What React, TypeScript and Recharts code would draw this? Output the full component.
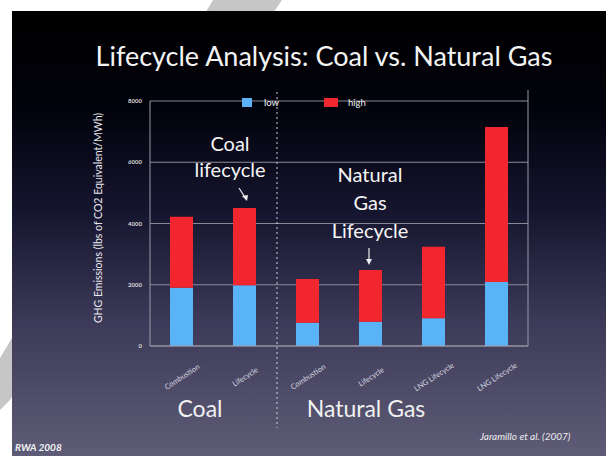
import React from "react";
import { BarChart, Bar, XAxis, YAxis, CartesianGrid, Legend } from "recharts";

const categories = [
  "Combustion",
  "Lifecycle",
  "Combustion",
  "Lifecycle",
  "LNG Lifecycle",
  "LNG Lifecycle",
];
const lowValues = [1900, 1980, 760, 790, 910, 2090];
const highValues = [2320, 2530, 1430, 1690, 2330, 5060];
const yTicks = [0, 2000, 4000, 6000, 8000];

const data = categories.map((name, i) => ({
  name,
  low: lowValues[i],
  high: highValues[i],
}));

const FONT = "Lato, 'Open Sans', sans-serif";

function RotatedTick(props: any) {
  const { x, y, payload } = props;
  return (
    <text
      transform={`translate(${x + 2},${y + 25}) rotate(-33)`}
      textAnchor="middle"
      fill="#d8d8e0"
      fontSize={7.5}
      fontFamily={FONT}
    >
      {payload.value}
    </text>
  );
}

function LegendBox() {
  return (
    <div style={{ display: "flex", alignItems: "center", fontFamily: FONT, fontSize: 9.5, color: "#eee" }}>
      <span style={{ width: 10, height: 9, background: "#5ab2f7", display: "inline-block" }} />
      <span style={{ marginLeft: 12 }}>low</span>
      <span style={{ width: 14, height: 9, background: "#f2262e", display: "inline-block", marginLeft: 45 }} />
      <span style={{ marginLeft: 10 }}>high</span>
    </div>
  );
}

export default function App() {
  return (
    <div style={{ position: "absolute", left: 0, top: 0, width: 606, height: 456, background: "#fff", overflow: "hidden", fontFamily: FONT }}>
      {/* grey brush stroke behind the slide */}
      <svg width={606} height={456} style={{ position: "absolute", left: 0, top: 0 }}>
        <polygon points="213,0 282,0 10,400 0,410 0,358" fill="#c6c6c6" />
      </svg>
      {/* slide */}
      <div
        style={{
          position: "absolute",
          left: 12,
          top: 11,
          width: 594,
          height: 445,
          background: "linear-gradient(180deg, #000 0%, #02020c 22%, #16152f 45%, #3c3a58 70%, #5e5c76 100%)",
        }}
      />
      <div style={{ position: "absolute", left: 0, top: 39, width: 648, textAlign: "center", color: "#f4f4f4", fontSize: 27 }}>
        Lifecycle Analysis: Coal vs. Natural Gas
      </div>
      <div style={{ position: "absolute", left: 0, top: 0 }}>
        <BarChart
          width={606}
          height={456}
          data={data}
          margin={{ top: 90, right: 78, bottom: 70, left: 110 }}
          barCategoryGap={20}
        >
          <CartesianGrid stroke="#8a8a98" strokeWidth={1} vertical={false} />
          <XAxis
            dataKey="name"
            height={40}
            interval={0}
            tick={<RotatedTick />}
            tickLine={false}
            axisLine={{ stroke: "#9a9aa8" }}
          />
          <YAxis
            width={40}
            domain={[0, 8000]}
            ticks={yTicks}
            tickLine={false}
            axisLine={{ stroke: "#9a9aa8" }}
            tick={{ fill: "#d8d8d8", fontSize: 6, fontWeight: 700, fontFamily: FONT }}
          />
          <Legend
            verticalAlign="top"
            content={() => <LegendBox />}
            wrapperStyle={{ position: "absolute", top: 97, left: 242, width: 200 }}
          />
          <Bar dataKey="low" name="low" stackId="a" fill="#5ab2f7" isAnimationActive={false} />
          <Bar dataKey="high" name="high" stackId="a" fill="#f2262e" isAnimationActive={false} />
        </BarChart>
      </div>
      {/* frame, divider, arrows, axis title */}
      <svg width={606} height={456} style={{ position: "absolute", left: 0, top: 0, pointerEvents: "none" }}>
        <line x1={528} y1={90} x2={528} y2={346} stroke="#9a9aa8" />
        <line x1={277} y1={92} x2={277} y2={428} stroke="#d0d0d8" strokeDasharray="2 3" />
        <line x1={239} y1={188} x2={246} y2={199} stroke="#eee" strokeWidth={1.2} />
        <polygon points="247,201 242,196 248,195" fill="#eee" />
        <line x1={369} y1={248} x2={369} y2={262} stroke="#eee" strokeWidth={1.2} />
        <polygon points="369,265 366,259 372,259" fill="#eee" />
        <text
          transform="translate(102,218) rotate(-90)"
          textAnchor="middle"
          fill="#e8e8ee"
          fontSize={10.5}
          fontFamily={FONT}
        >
          GHG Emissions (lbs of CO2 Equivalent/MWh)
        </text>
      </svg>
      <div style={{ position: "absolute", left: 175, top: 130, width: 110, textAlign: "center", color: "#f4f4f4", fontSize: 20, lineHeight: "26px" }}>
        Coal
        <br />
        lifecycle
      </div>
      <div style={{ position: "absolute", left: 315, top: 160, width: 110, textAlign: "center", color: "#f4f4f4", fontSize: 20, lineHeight: "28px" }}>
        Natural
        <br />
        Gas
        <br />
        Lifecycle
      </div>
      <div style={{ position: "absolute", left: 155, top: 394, width: 90, textAlign: "center", color: "#f0f0f0", fontSize: 23 }}>
        Coal
      </div>
      <div style={{ position: "absolute", left: 288, top: 394, width: 156, textAlign: "center", color: "#f0f0f0", fontSize: 23 }}>
        Natural Gas
      </div>
      <div style={{ position: "absolute", left: 15, top: 441, color: "#f4f4f4", fontSize: 10, fontWeight: 700, fontStyle: "italic" }}>
        RWA 2008
      </div>
      <div style={{ position: "absolute", left: 480, top: 430, color: "#ececf0", fontSize: 10, fontStyle: "italic" }}>
        Jaramillo et al. (2007)
      </div>
    </div>
  );
}
